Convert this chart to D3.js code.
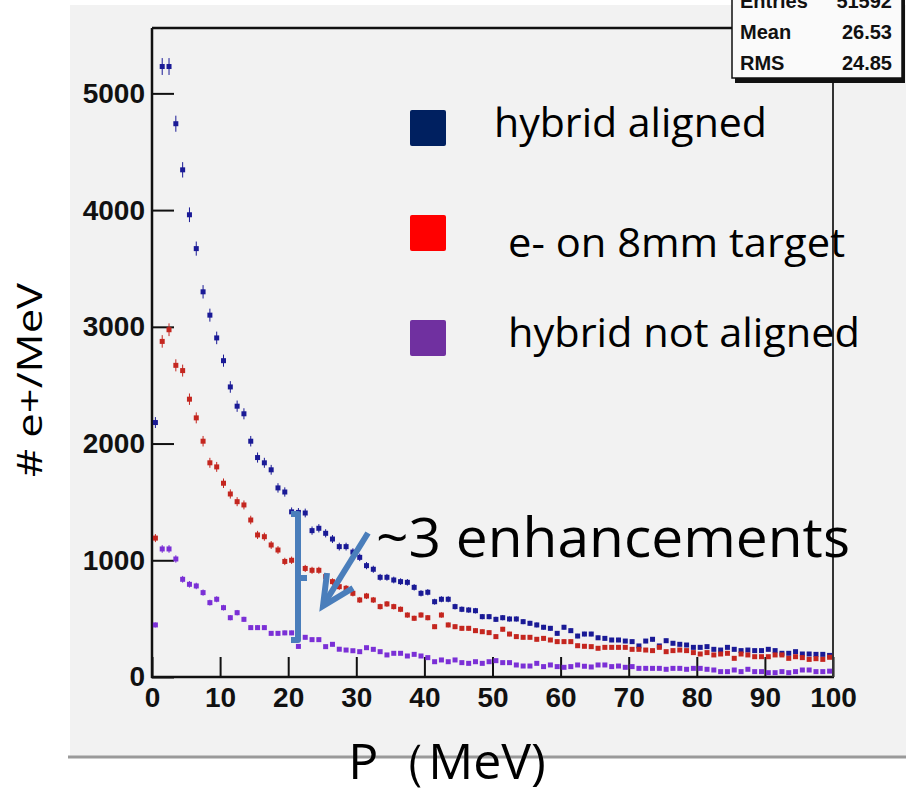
<!DOCTYPE html>
<html>
<head>
<meta charset="utf-8">
<script src="https://cdn.jsdelivr.net/npm/d3@7"></script>
<style>
  html, body { margin: 0; padding: 0; background: #ffffff; }
  svg { display: block; }
</style>
</head>
<body>
<svg id="chart" width="906" height="793"></svg>
<script>
// ---- Data (bin centres 0.5 ... 99.5 MeV) ----
const binCenters = d3.range(100).map(i => i + 0.5);
const hybridAligned = [
  2180, 5230, 5230, 4740, 4345, 3960, 3670, 3300, 3100, 2905,
  2710, 2485, 2320, 2255, 2020, 1880, 1835, 1775, 1620, 1585,
  1415, 1410, 1405, 1254, 1274, 1231, 1182, 1117, 1117, 1070,
  1025, 954, 923, 854, 854, 831, 817, 811, 768, 717,
  726, 645, 666, 666, 603, 580, 574, 568, 517, 517,
  494, 508, 497, 497, 474, 460, 446, 426, 417, 374,
  426, 397, 351, 368, 368, 336, 331, 317, 317, 308,
  303, 266, 308, 323, 266, 311, 289, 280, 274, 254,
  254, 260, 237, 231, 254, 237, 226, 231, 226, 226,
  237, 226, 203, 203, 217, 197, 197, 194, 194, 185
];
const eOnTarget = [
  1190, 2875, 2975, 2670, 2625, 2380, 2220, 2020, 1835, 1800,
  1660, 1568, 1502, 1474, 1345, 1217, 1202, 1131, 1088, 990,
  1000, 960, 930, 914, 914, 860, 817, 774, 760, 717,
  660, 694, 660, 603, 626, 603, 580, 531, 503, 531,
  508, 431, 531, 446, 431, 417, 417, 397, 388, 380,
  346, 409, 368, 346, 340, 340, 323, 331, 317, 303,
  303, 303, 268, 263, 260, 246, 254, 254, 254, 254,
  237, 237, 231, 226, 254, 217, 226, 231, 226, 209,
  197, 209, 189, 197, 203, 160, 197, 189, 174, 174,
  174, 189, 189, 160, 174, 166, 151, 157, 151, 169
];
const hybridNotAligned = [
  446, 1097, 1097, 1011, 837, 794, 780, 723, 637, 666,
  594, 508, 551, 494, 423, 423, 423, 374, 374, 378,
  378, 262, 340, 320, 320, 260, 280, 238, 231, 225,
  217, 251, 237, 217, 189, 203, 203, 180, 194, 180,
  166, 131, 146, 131, 146, 123, 117, 131, 117, 131,
  140, 123, 123, 103, 94, 94, 117, 89, 103, 89,
  83, 89, 103, 92, 86, 103, 103, 89, 94, 83,
  89, 74, 74, 74, 74, 66, 74, 74, 66, 74,
  74, 66, 60, 46, 46, 60, 46, 66, 46, 46,
  37, 37, 46, 37, 46, 60, 60, 46, 46, 50
];
const xMajorTicks = [0, 10, 20, 30, 40, 50, 60, 70, 80, 90, 100];
const xMinorTicks = d3.range(0, 101, 2);
const yMajorTicks = [0, 1000, 2000, 3000, 4000, 5000];
const yMinorTicks = d3.range(0, 5500, 200);
const legendLabels = ["hybrid aligned", "e- on 8mm target", "hybrid not aligned"];
const statsLabels = ["Entries", "Mean", "RMS"];
const statsValues = ["51592", "26.53", "24.85"];

// ---- Layout ----
const svg = d3.select("#chart");
const L = 152, R = 833, T = 28, B = 677;
const x = d3.scaleLinear().domain([0, 100]).range([L, R]);
const y = d3.scaleLinear().domain([0, 5560]).range([B, T]);

// panel background
svg.append("rect").attr("x", 70).attr("y", 5).attr("width", 836).attr("height", 752).attr("fill", "#f2f2f2");
svg.append("line").attr("x1", 68).attr("x2", 906).attr("y1", 757).attr("y2", 757)
  .attr("stroke", "#9a9a9a").attr("stroke-width", 3);

// axes
const tickFont = "'Liberation Sans', Arial, sans-serif";
const gy = svg.append("g").attr("transform", `translate(${L},0)`);
gy.call(d3.axisLeft(y).tickValues(yMinorTicks).tickSize(-12).tickFormat(""));
gy.call(d3.axisLeft(y).tickValues(yMajorTicks).tickSize(-22).tickPadding(7).tickFormat(d3.format("d")));
gy.selectAll(".domain").remove();
gy.selectAll(".tick line").attr("stroke", "#111").attr("stroke-width", 2);
gy.selectAll(".tick text").attr("font-family", tickFont).attr("font-weight", "bold")
  .attr("font-size", 28).attr("fill", "#111");

const gx = svg.append("g").attr("transform", `translate(0,${B})`);
gx.call(d3.axisBottom(x).tickValues(xMinorTicks).tickSize(-10).tickFormat(""));
gx.call(d3.axisBottom(x).tickValues(xMajorTicks).tickSize(-20).tickPadding(10).tickFormat(d3.format("d")));
gx.selectAll(".domain").remove();
gx.selectAll(".tick line").attr("stroke", "#111").attr("stroke-width", 2);
gx.selectAll(".tick text").attr("font-family", tickFont).attr("font-weight", "bold")
  .attr("font-size", 28).attr("fill", "#111");

// frame
svg.append("line").attr("x1", L).attr("x2", L).attr("y1", T).attr("y2", B + 1).attr("stroke", "#111").attr("stroke-width", 2.5);
svg.append("line").attr("x1", L - 1).attr("x2", R + 1).attr("y1", B).attr("y2", B).attr("stroke", "#111").attr("stroke-width", 2.5);
svg.append("line").attr("x1", L).attr("x2", 734).attr("y1", T).attr("y2", T).attr("stroke", "#111").attr("stroke-width", 2.5);
svg.append("line").attr("x1", R).attr("x2", R).attr("y1", 78).attr("y2", B).attr("stroke", "#333").attr("stroke-width", 2);

// data series
const series = [
  { values: hybridAligned, color: "#1a1a96" },
  { values: eOnTarget, color: "#c4261f" },
  { values: hybridNotAligned, color: "#7b30d6" }
];
series.forEach(s => {
  const g = svg.append("g");
  const pts = binCenters.map((c, i) => ({ c, v: s.values[i] }));
  g.selectAll("line").data(pts).join("line")
    .attr("x1", d => x(d.c)).attr("x2", d => x(d.c))
    .attr("y1", d => y(d.v + Math.sqrt(d.v))).attr("y2", d => y(d.v - Math.sqrt(d.v)))
    .attr("stroke", s.color).attr("stroke-width", 1);
  g.selectAll("rect").data(pts).join("rect")
    .attr("x", d => x(d.c) - 2.5).attr("y", d => y(d.v) - 2.5)
    .attr("width", 5).attr("height", 5).attr("fill", s.color);
});

// stats box
const sb = svg.append("g");
sb.append("rect").attr("x", 735).attr("y", -10).attr("width", 170).attr("height", 93).attr("fill", "#111");
sb.append("rect").attr("x", 732).attr("y", -12).attr("width", 170).attr("height", 90)
  .attr("fill", "#fafafa").attr("stroke", "#111").attr("stroke-width", 1.5);
const statY = [8, 39, 70];
statsLabels.forEach((t, i) => {
  sb.append("text").attr("x", 740).attr("y", statY[i]).text(t)
    .attr("font-family", tickFont).attr("font-weight", "bold").attr("font-size", 20).attr("fill", "#111");
  sb.append("text").attr("x", 892).attr("y", statY[i]).text(statsValues[i]).attr("text-anchor", "end")
    .attr("font-family", tickFont).attr("font-weight", "bold").attr("font-size", 20).attr("fill", "#111");
});

// legend
const textFont = "'Open Sans', 'Noto Sans', sans-serif";
const legendColors = ["#002060", "#ff0000", "#7030a0"];
const legendBoxY = [110, 215, 320];
const legendTextX = [494, 508, 508];
const legendTextY = [137, 257, 347];
const legendTextW = [273, 337, 352];
legendLabels.forEach((t, i) => {
  svg.append("rect").attr("x", 410).attr("y", legendBoxY[i]).attr("width", 36).attr("height", 36)
    .attr("rx", 2).attr("fill", legendColors[i]);
  svg.append("text").attr("x", legendTextX[i]).attr("y", legendTextY[i]).text(t)
    .attr("font-family", textFont).attr("font-size", 40).attr("fill", "#000")
    .attr("textLength", legendTextW[i]).attr("lengthAdjust", "spacingAndGlyphs");
});

// annotation
svg.append("text").attr("x", 376).attr("y", 557).text("~3 enhancements")
  .attr("font-family", textFont).attr("font-size", 54).attr("fill", "#000")
  .attr("textLength", 474).attr("lengthAdjust", "spacingAndGlyphs");
const annColor = "#4a7ebb";
svg.append("path").attr("d", "M291,514 L298,514 L298,640 L291,640 M298,578 L307,578")
  .attr("fill", "none").attr("stroke", annColor).attr("stroke-width", 6).attr("stroke-linejoin", "round");
svg.append("path").attr("d", "M368,533 L324,604").attr("stroke", annColor).attr("stroke-width", 6).attr("fill", "none");
svg.append("path").attr("d", "M327,573 L323,606 L353,588")
  .attr("fill", "none").attr("stroke", annColor).attr("stroke-width", 6).attr("stroke-linejoin", "miter");

// axis titles
svg.append("text").attr("transform", "translate(42,380) rotate(-90)").attr("text-anchor", "middle")
  .text("# e+/MeV").attr("font-family", textFont).attr("font-size", 34).attr("fill", "#000")
  .attr("textLength", 194).attr("lengthAdjust", "spacingAndGlyphs");
svg.append("text").attr("x", 447).attr("y", 779).attr("text-anchor", "middle").text("P（MeV)")
  .attr("font-family", textFont).attr("font-size", 50).attr("fill", "#000");
</script>
</body>
</html>
